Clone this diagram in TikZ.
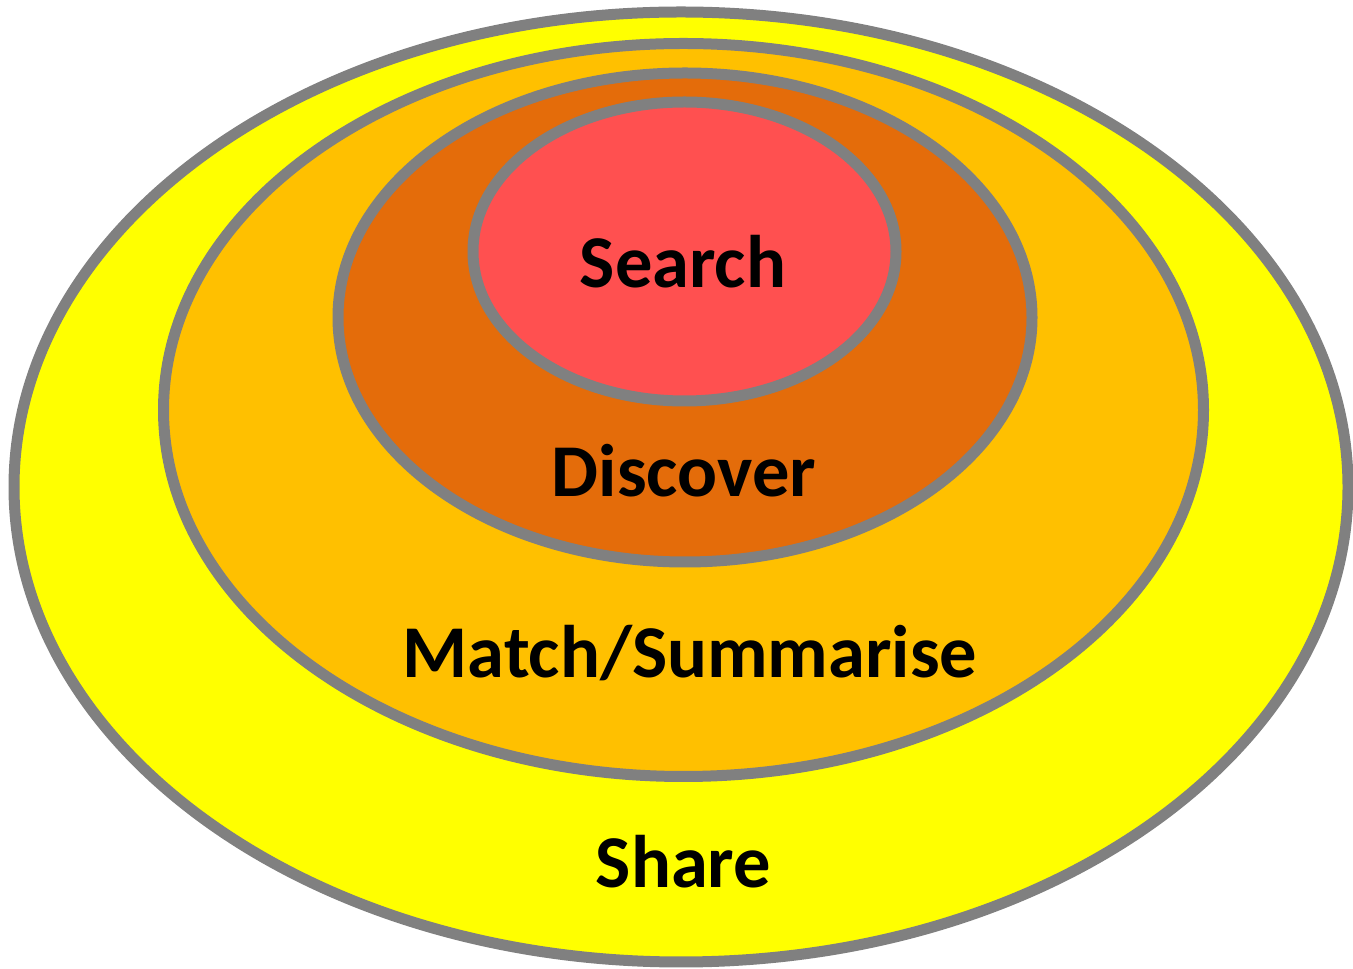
\documentclass[tikz,border=0pt]{standalone}
\usepackage{fontspec}
\setmainfont{Carlito}
\usepackage{tikz}
\usetikzlibrary{positioning}

\definecolor{shareyellow}{HTML}{FFFF00}
\definecolor{matchorange}{HTML}{FFC000}
\definecolor{discoverorange}{HTML}{E46C0A}
\definecolor{searchred}{HTML}{FF5050}
\definecolor{ringgray}{HTML}{808080}

\begin{document}
\begin{tikzpicture}[x=1pt, y=1pt,
    ring/.style={draw=ringgray, line width=11pt},
    layer/.style={font=\bfseries\fontsize{74.5}{80}\selectfont, text=black, anchor=base, inner sep=0pt}]
    \useasboundingbox (0,0) rectangle (1353,969);

    % Share
    \filldraw[ring, fill=shareyellow] (681,482) ellipse (667 and 475);
    % Match/Summarise
    \filldraw[ring, fill=matchorange] (683.5,559) ellipse (520 and 366.5);
    % Discover
    \filldraw[ring, fill=discoverorange] (685,651.5) ellipse (347 and 244.5);
    % Search
    \filldraw[ring, fill=searchred] (684.5,717.5) ellipse (211.5 and 149.5);

    % Labels
    \node[layer] (search) at (683,681) {Search};
    \node[layer] (discover) at (684,472) {Discover};
    \node[layer] (match) at (690,291) {Match/Summarise};
    \node[layer] (share) at (683.5,81) {Share};
\end{tikzpicture}
\end{document}
